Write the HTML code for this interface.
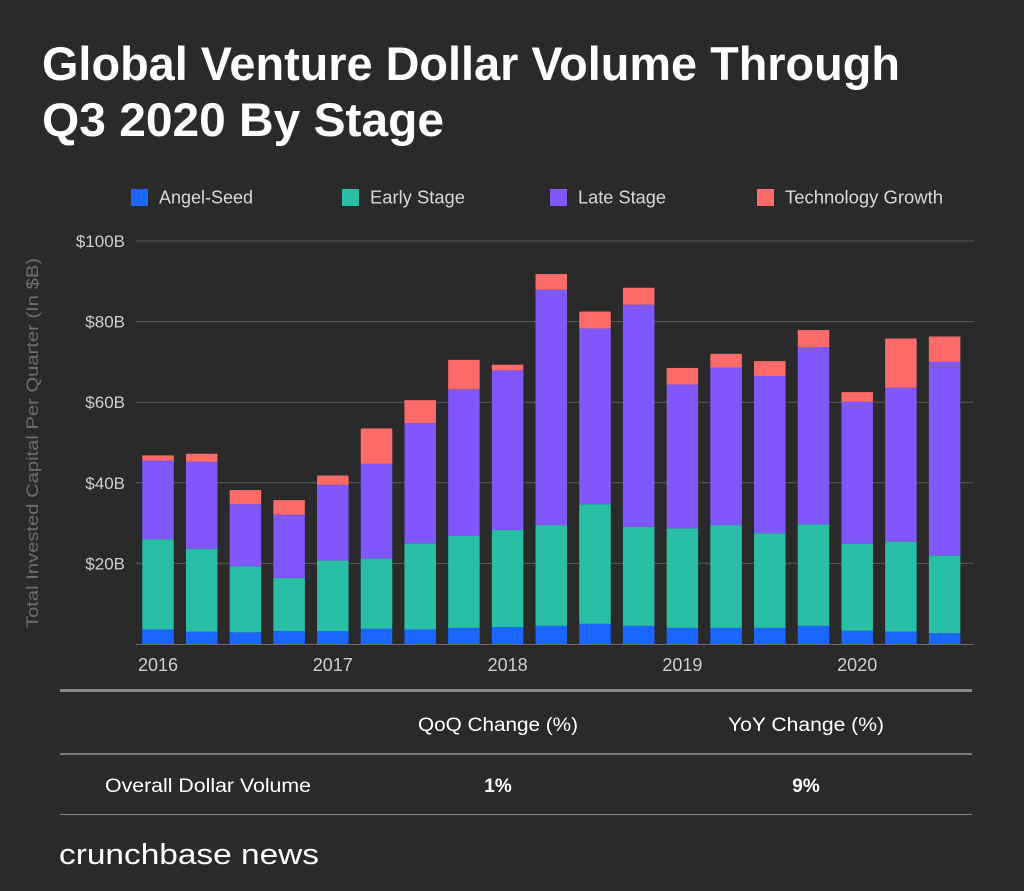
<!DOCTYPE html>
<html><head><meta charset="utf-8"><style>
html,body{margin:0;padding:0;background:#2a2a2a;}
body{width:1024px;height:891px;overflow:hidden;font-family:"Liberation Sans",sans-serif;}
</style></head><body>
<svg id="chart" width="1024" height="891" xmlns="http://www.w3.org/2000/svg" style="display:block">
<rect width="1024" height="891" fill="#2a2a2a"/>
<text x="42" y="80" font-size="47" font-weight="bold" fill="#fff" textLength="858" lengthAdjust="spacingAndGlyphs">Global Venture Dollar Volume Through</text>
<text x="42" y="136" font-size="47" font-weight="bold" fill="#fff" textLength="402" lengthAdjust="spacingAndGlyphs">Q3 2020 By Stage</text>
<g id="legend"></g>
<g id="grid"></g>
<g id="bars"></g>
<g id="xlabels"></g>
<text transform="translate(38,443) rotate(-90)" text-anchor="middle" font-size="17" fill="#6e6e6e" textLength="370" lengthAdjust="spacingAndGlyphs">Total Invested Capital Per Quarter (In $B)</text>
<rect x="60" y="689" width="912" height="3" fill="#8a8a8a"/>
<text x="498" y="731" text-anchor="middle" font-size="19" fill="#fff" textLength="160" lengthAdjust="spacingAndGlyphs">QoQ Change (%)</text>
<text x="806" y="731" text-anchor="middle" font-size="19" fill="#fff" textLength="156" lengthAdjust="spacingAndGlyphs">YoY Change (%)</text>
<rect x="60" y="753" width="912" height="2" fill="#7a7a7a"/>
<text x="105" y="792" font-size="19" fill="#fff" textLength="206" lengthAdjust="spacingAndGlyphs">Overall Dollar Volume</text>
<text x="498" y="792" text-anchor="middle" font-size="19" font-weight="bold" fill="#fff">1%</text>
<text x="806" y="792" text-anchor="middle" font-size="19" font-weight="bold" fill="#fff">9%</text>
<rect x="60" y="814" width="912" height="1" fill="#8a8a8a"/>
<text x="59" y="864" font-size="29" fill="#fff" textLength="260" lengthAdjust="spacingAndGlyphs">crunchbase news</text>
</svg>
<script>
const quarters = ["Q1 2016","Q2 2016","Q3 2016","Q4 2016","Q1 2017","Q2 2017","Q3 2017","Q4 2017","Q1 2018","Q2 2018","Q3 2018","Q4 2018","Q1 2019","Q2 2019","Q3 2019","Q4 2019","Q1 2020","Q2 2020","Q3 2020"];
const angelSeed = [3.6,3.1,2.9,3.2,3.2,3.8,3.6,4.0,4.2,4.5,5.0,4.5,4.0,4.0,4.0,4.5,3.3,3.1,2.7];
const earlyStage = [22.4,20.5,16.4,13.2,17.5,17.4,21.4,22.8,24.1,25.0,29.7,24.6,24.7,25.5,23.5,25.2,21.6,22.3,19.3];
const lateStage = [19.5,21.6,15.4,15.7,18.8,23.5,29.8,36.4,39.6,58.4,43.6,55.1,35.7,39.1,39.0,44.0,35.2,38.2,48.0];
const techGrowth = [1.3,2.0,3.5,3.6,2.3,8.8,5.7,7.3,1.4,3.9,4.2,4.2,4.1,3.4,3.7,4.2,2.4,12.2,6.3];
const yTicks = [20,40,60,80,100];
const yTickLabels = ["$20B","$40B","$60B","$80B","$100B"];
const yearLabels = ["2016","2017","2018","2019","2020"];
const yearIndex = [0,4,8,12,16];
const seriesNames = ["Angel-Seed","Early Stage","Late Stage","Technology Growth"];
const colors = ["#1b66fe","#29bfa5","#7f57fa","#fc6b6a"];

const NS="http://www.w3.org/2000/svg";
const plotL=136, plotR=974, y0=644, pxPerB=4.03;
const pitch=43.7, firstCenter=158, barW=31.5;
function yScale(v){return y0 - v*pxPerB;}
function xCenter(i){return firstCenter + i*pitch;}
function mk(tag,attrs,parent){const e=document.createElementNS(NS,tag);for(const k in attrs)e.setAttribute(k,attrs[k]);parent.appendChild(e);return e;}

const grid=document.getElementById('grid');
yTicks.forEach((t,i)=>{
  const l=mk('line',{x1:plotL,x2:plotR,y1:yScale(t),y2:yScale(t),stroke:'#5a5a5a','stroke-width':1},grid);
  
  
  const tx=mk('text',{x:125,y:yScale(t)+6,'text-anchor':'end','font-size':17,fill:'#cfcfcf'},grid);
  tx.textContent=yTickLabels[i];
  
  
});
const base=mk('line',{x1:plotL,x2:plotR,y1:y0+0.5,y2:y0+0.5,stroke:'#6a6a6a','stroke-width':1},grid);



const bars=document.getElementById('bars');
const series=[angelSeed,earlyStage,lateStage,techGrowth];
quarters.forEach((q,i)=>{
  let acc=0;
  series.forEach((s,k)=>{
    const v=s[i];
    const r=mk('rect',{x:xCenter(i)-barW/2,y:yScale(acc+v),width:barW,height:v*pxPerB,fill:colors[k]},bars);
    
    
    acc+=v;
  });
});

const xl=document.getElementById('xlabels');
yearLabels.forEach((y,i)=>{
  const t=mk('text',{x:xCenter(yearIndex[i]),y:671,'text-anchor':'middle','font-size':18,fill:'#cfcfcf'},xl);
  t.textContent=y;
  
  
});

const lg=document.getElementById('legend');
const legendX=[131,342,550,757];
const legendW=[94,95,88,158];
seriesNames.forEach((n,i)=>{
  const r=mk('rect',{x:legendX[i],y:189,width:17,height:17,fill:colors[i]},lg);
  
  
  const t=mk('text',{x:legendX[i]+28,y:203.5,'font-size':18,fill:'#d8d8d8',textLength:legendW[i],lengthAdjust:'spacingAndGlyphs'},lg);
  t.textContent=n;
  
  
});
</script>
</body></html>
